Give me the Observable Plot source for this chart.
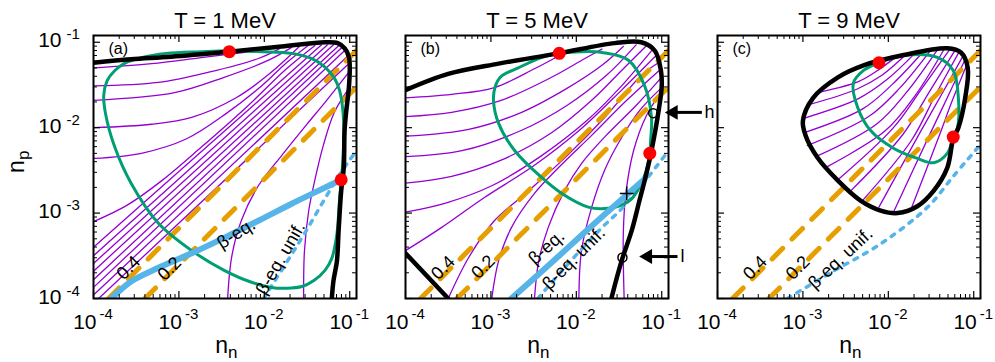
<!DOCTYPE html>
<html><head><meta charset="utf-8">
<script src="https://cdn.jsdelivr.net/npm/d3@7"></script>
<script src="https://cdn.jsdelivr.net/npm/@observablehq/plot@0.6"></script>
<style>body{margin:0;background:#fff}#chart{width:995px;height:362px}</style>
</head><body><div id="chart"></div>
<script>
// ---------- categories / tick labels ----------
const panels = ["a", "b", "c"];
const titles = ["T = 1 MeV", "T = 5 MeV", "T = 9 MeV"];
const panelTags = ["(a)", "(b)", "(c)"];
const majorTicks = [1e-4, 1e-3, 1e-2, 1e-1];
const majorExp = ["-4", "-3", "-2", "-1"];
const minorTicks = [2e-4,3e-4,4e-4,5e-4,6e-4,7e-4,8e-4,9e-4,2e-3,3e-3,4e-3,5e-3,6e-3,7e-3,8e-3,9e-3,2e-2,3e-2,4e-2,5e-2,6e-2,7e-2,8e-2,9e-2];

// ---------- constant proton fraction lines (nn, np) ----------
const yp04 = [[1.5e-4, 1e-4], [0.12, 0.08]];
const yp02 = [[4e-4, 1e-4], [0.12, 0.03]];

// ---------- panel (a), T = 1 MeV : [log10 nn, log10 np] ----------
const aBoundary = [[-4.00,-1.24],[-3.56,-1.20],[-3.09,-1.17],[-2.41,-1.11],[-1.80,-1.05],[-1.29,-1.00],[-1.14,-1.01],[-1.06,-1.07],[-1.01,-1.17],[-1.00,-1.28],[-1.01,-1.53],[-1.04,-1.80],[-1.06,-2.03],[-1.07,-2.47],[-1.10,-2.74],[-1.13,-3.20],[-1.15,-3.56],[-1.19,-3.79],[-1.21,-4.00]];
const aSpinodal = [[-2.41,-1.10],[-2.03,-1.11],[-1.68,-1.13],[-1.45,-1.19],[-1.29,-1.29],[-1.18,-1.42],[-1.12,-1.56],[-1.08,-1.80],[-1.07,-2.03],[-1.08,-2.38],[-1.10,-2.62],[-1.12,-2.85],[-1.15,-3.24],[-1.21,-3.53],[-1.29,-3.67],[-1.42,-3.79],[-1.56,-3.86],[-1.74,-3.88],[-1.92,-3.87],[-2.15,-3.81],[-2.47,-3.67],[-2.85,-3.44],[-3.24,-3.12],[-3.56,-2.65],[-3.75,-2.23],[-3.86,-1.83],[-3.88,-1.62],[-3.84,-1.45],[-3.75,-1.33],[-3.64,-1.25],[-3.44,-1.18],[-3.15,-1.13],[-2.74,-1.11]];
const aBetaEq = [[-3.79,-4.00],[-3.56,-3.80],[-3.24,-3.64],[-2.85,-3.47],[-2.47,-3.29],[-2.07,-3.09],[-1.68,-2.89],[-1.37,-2.74],[-1.10,-2.61]];
const aBetaUnif = [[-2.01,-4.00],[-1.76,-3.61],[-1.53,-3.24],[-1.29,-2.83],[-1.10,-2.52],[-0.92,-2.27]];
const aCritical = [[-2.41,-1.11],[-1.10,-2.61]];
const aFlow = [
  [[-4.00,-1.30],[-3.32,-1.25],[-2.74,-1.18],[-2.15,-1.11]],
  [[-4.00,-1.51],[-3.24,-1.47],[-2.65,-1.35],[-2.07,-1.19],[-1.83,-1.08]],
  [[-4.00,-1.68],[-3.05,-1.59],[-2.47,-1.41],[-1.95,-1.21],[-1.68,-1.06]],
  [[-4.00,-2.00],[-3.32,-1.96],[-2.85,-1.88],[-2.33,-1.65],[-1.94,-1.37],[-1.59,-1.05]],
  [[-4.00,-2.36],[-3.44,-2.30],[-2.91,-2.13],[-2.44,-1.83],[-2.03,-1.51],[-1.74,-1.24],[-1.49,-1.04]],
  [[-4.00,-3.10],[-3.61,-2.91],[-3.20,-2.62],[-2.74,-2.23],[-2.21,-1.76],[-1.74,-1.31],[-1.41,-1.04]],
  [[-4.00,-3.40],[-1.33,-1.03]],
  [[-4.00,-3.50],[-1.26,-1.03]],
  [[-4.00,-3.59],[-1.19,-1.03]],
  [[-4.00,-3.68],[-1.13,-1.04]],
  [[-4.00,-3.78],[-1.08,-1.05]],
  [[-4.00,-3.87],[-1.04,-1.08]],
  [[-4.00,-3.96],[-1.01,-1.15]],
  [[-3.94,-4.00],[-1.00,-1.24]],
  [[-2.43,-4.00],[-2.38,-3.50],[-2.27,-3.09],[-2.07,-2.68],[-1.80,-2.33],[-1.51,-1.97],[-1.27,-1.68],[-1.01,-1.35]],
  [[-1.54,-4.00],[-1.53,-3.44],[-1.48,-2.97],[-1.41,-2.62],[-1.31,-2.21],[-1.18,-1.82],[-1.01,-1.54]]
];

// ---------- panel (b), T = 5 MeV ----------
const bBoundary = [[-4.00,-1.56],[-3.50,-1.37],[-2.91,-1.25],[-2.21,-1.13],[-1.55,-1.01],[-1.24,-1.00],[-1.08,-1.10],[-1.01,-1.33],[-1.00,-1.51],[-1.03,-1.76],[-1.12,-2.27],[-1.18,-2.54],[-1.26,-2.85],[-1.35,-3.20],[-1.47,-3.56],[-1.59,-4.00]];
const bBoundaryLow = [[-4.00,-3.47],[-3.50,-4.00]];
const bSpinodal = [[-2.20,-1.13],[-1.94,-1.11],[-1.70,-1.12],[-1.39,-1.21],[-1.20,-1.51],[-1.12,-1.88],[-1.13,-2.15],[-1.14,-2.30],[-1.18,-2.50],[-1.24,-2.65],[-1.35,-2.83],[-1.51,-2.92],[-1.70,-2.95],[-1.86,-2.93],[-2.17,-2.77],[-2.41,-2.58],[-2.72,-2.27],[-2.91,-1.95],[-2.97,-1.68],[-2.95,-1.52],[-2.88,-1.40],[-2.68,-1.30],[-2.41,-1.18]];
const bBetaEq = [[-2.76,-4.00],[-2.29,-3.58],[-1.82,-3.15],[-1.47,-2.84],[-1.20,-2.60]];
const bBetaUnif = [[-2.45,-4.00],[-2.11,-3.61],[-1.70,-3.17],[-1.47,-2.95],[-1.24,-2.68],[-0.92,-2.27]];
const bCritical = [[-2.20,-1.13],[-1.14,-2.30]];
const bCross = [[-1.41,-2.77]];
const bMarks = [[-1.10,-1.83],[-1.46,-3.52]];
const bFlow = [
  [[-4.00,-1.65],[-3.46,-1.61],[-2.96,-1.53],[-2.49,-1.31],[-2.17,-1.14]],
  [[-4.00,-1.87],[-3.46,-1.82],[-2.88,-1.68],[-2.29,-1.41],[-1.90,-1.19],[-1.70,-1.08]],
  [[-4.00,-2.10],[-3.26,-2.02],[-2.64,-1.82],[-2.11,-1.54],[-1.70,-1.27],[-1.45,-1.05]],
  [[-4.00,-2.34],[-3.34,-2.27],[-2.64,-2.03],[-2.11,-1.74],[-1.65,-1.39],[-1.30,-1.03]],
  [[-4.00,-2.65],[-3.46,-2.57],[-2.88,-2.38],[-2.29,-2.06],[-1.82,-1.68],[-1.47,-1.33],[-1.18,-1.04]],
  [[-4.00,-2.99],[-3.52,-2.88],[-2.99,-2.68],[-2.41,-2.33],[-1.88,-1.92],[-1.47,-1.51],[-1.12,-1.10]],
  [[-4.00,-3.44],[-3.58,-3.17],[-3.08,-2.82],[-2.49,-2.44],[-1.94,-2.01],[-1.47,-1.56],[-1.06,-1.15]],
  [[-3.50,-4.00],[-3.26,-3.52],[-2.96,-3.09],[-2.56,-2.74],[-2.11,-2.33],[-1.65,-1.86],[-1.24,-1.39],[-1.04,-1.24]],
  [[-2.99,-4.00],[-2.91,-3.56],[-2.76,-3.17],[-2.49,-2.77],[-2.21,-2.47],[-1.82,-2.09],[-1.41,-1.68],[-1.03,-1.33]],
  [[-2.49,-4.00],[-2.44,-3.56],[-2.33,-3.17],[-2.14,-2.74],[-1.94,-2.42],[-1.65,-2.09],[-1.30,-1.74],[-1.01,-1.42]],
  [[-1.97,-4.00],[-1.94,-3.44],[-1.82,-2.93],[-1.67,-2.50],[-1.49,-2.15],[-1.26,-1.80],[-1.01,-1.54]],
  [[-1.44,-4.00],[-1.45,-3.24],[-1.42,-2.77],[-1.33,-2.27],[-1.18,-1.86],[-1.03,-1.62]]
];

// ---------- panel (c), T = 9 MeV ----------
const cBoundary = [[-3.00,-1.92],[-2.88,-1.65],[-2.59,-1.41],[-2.29,-1.27],[-1.82,-1.15],[-1.31,-1.07],[-1.15,-1.12],[-1.07,-1.30],[-1.10,-1.65],[-1.18,-2.00],[-1.24,-2.13],[-1.31,-2.47],[-1.47,-2.74],[-1.66,-2.92],[-1.89,-3.00],[-2.09,-2.97],[-2.33,-2.85],[-2.59,-2.62],[-2.83,-2.35],[-2.97,-2.09]];
const cSpinodal = [[-2.11,-1.24],[-1.78,-1.15],[-1.42,-1.18],[-1.24,-1.33],[-1.18,-1.65],[-1.19,-2.00],[-1.24,-2.11],[-1.31,-2.30],[-1.47,-2.41],[-1.66,-2.36],[-1.94,-2.24],[-2.21,-2.03],[-2.36,-1.76],[-2.41,-1.48],[-2.29,-1.33]];
const cBetaUnif = [[-3.18,-4.00],[-2.68,-3.70],[-2.09,-3.36],[-1.54,-2.93],[-1.24,-2.57],[-0.94,-2.22]];
const cCritical = [[-2.11,-1.24],[-1.24,-2.11]];
const cFlow = [
  [[-2.79,-1.58],[-2.35,-1.46],[-2.14,-1.34],[-1.92,-1.18]],
  [[-2.93,-1.73],[-2.37,-1.55],[-2.08,-1.39],[-1.80,-1.15]],
  [[-2.99,-1.89],[-2.35,-1.66],[-2.02,-1.44],[-1.69,-1.13]],
  [[-2.99,-2.06],[-2.30,-1.78],[-1.95,-1.49],[-1.60,-1.12]],
  [[-2.95,-2.21],[-2.23,-1.87],[-1.87,-1.54],[-1.51,-1.10]],
  [[-2.85,-2.34],[-2.14,-1.96],[-1.79,-1.59],[-1.42,-1.08]],
  [[-2.74,-2.47],[-2.04,-2.04],[-1.69,-1.63],[-1.34,-1.07]],
  [[-2.59,-2.61],[-1.94,-2.00],[-1.60,-1.53],[-1.27,-1.07]],
  [[-2.44,-2.74],[-1.83,-2.08],[-1.52,-1.58],[-1.21,-1.08]],
  [[-2.29,-2.84],[-1.73,-2.15],[-1.45,-1.62],[-1.17,-1.11]],
  [[-2.11,-2.93],[-1.62,-2.04],[-1.37,-1.60],[-1.12,-1.15]],
  [[-1.94,-2.99],[-1.52,-2.09],[-1.31,-1.65],[-1.10,-1.20]],
  [[-1.74,-2.97],[-1.41,-2.11],[-1.25,-1.68],[-1.08,-1.26]]
];

// ---------- annotations ----------
const curveLabels = [
  {fx: "a", text: "0.4", lx: -3.59, ly: -3.64, rotate: -45},
  {fx: "a", text: "0.2", lx: -3.11, ly: -3.65, rotate: -45},
  {fx: "a", text: "β-eq.", lx: -2.33, ly: -3.24, rotate: -32},
  {fx: "a", text: "β-eq. unif.", lx: -1.81, ly: -3.53, rotate: -60},
  {fx: "b", text: "0.4", lx: -3.56, ly: -3.64, rotate: -45},
  {fx: "b", text: "0.2", lx: -3.09, ly: -3.63, rotate: -45},
  {fx: "b", text: "β-eq.", lx: -2.35, ly: -3.40, rotate: -42},
  {fx: "b", text: "β-eq. unif.", lx: -2.03, ly: -3.53, rotate: -45},
  {fx: "c", text: "0.4", lx: -3.56, ly: -3.64, rotate: -45},
  {fx: "c", text: "0.2", lx: -3.06, ly: -3.64, rotate: -45},
  {fx: "c", text: "β-eq. unif.", lx: -2.56, ly: -3.53, rotate: -43}
];
const pointerArrows = [
  {fx: "b", label: "h", tail: 0.295, head: 0.132, tip: 0.123, lx: 0.316, np: 0.0151},
  {fx: "b", label: "l", tail: 0.153, head: 0.066, tip: 0.0616, lx: 0.166, np: 3.1e-4}
];

// ---------- build tables ----------
const rows = (fx, id, pts) => pts.map(([lx, ly]) => ({fx, id, nn: 10 ** lx, np: 10 ** ly}));
const sets = (fx, list) => list.flatMap((pts, i) => rows(fx, fx + i, pts));
const plain = (id, pts) => pts.map(([nn, np]) => ({id, nn, np}));

const flowRows = [...sets("a", aFlow), ...sets("b", bFlow), ...sets("c", cFlow)];
const boundaryRows = [...rows("a", "a", aBoundary), ...rows("b", "b", bBoundary), ...rows("b", "b2", bBoundaryLow)];
const boundaryLoopRows = rows("c", "c", cBoundary);
const spinodalRows = [...rows("a", "a", aSpinodal), ...rows("b", "b", bSpinodal), ...rows("c", "c", cSpinodal)];
const betaRows = [...rows("a", "a", aBetaEq), ...rows("b", "b", bBetaEq)];
const betaUnifRows = [...rows("a", "a", aBetaUnif), ...rows("b", "b", bBetaUnif), ...rows("c", "c", cBetaUnif)];
const criticalRows = [...rows("a", "a", aCritical), ...rows("b", "b", bCritical), ...rows("c", "c", cCritical)];
const crossRows = rows("b", "b", bCross);
const markRows = rows("b", "b", bMarks);
const ypRows = [...plain("0.4", yp04), ...plain("0.2", yp02)];
const yTickRows = majorTicks.map((v, i) => ({fx: "a", v, exp: majorExp[i]}));
const labelRows = curveLabels.map(d => ({...d, nn: 10 ** d.lx, np: 10 ** d.ly}));

const font = "'Liberation Sans', Arial, Helvetica, sans-serif";
const purple = "#9400d3", green = "#009e73", orange = "#e69f00", blue = "#56b4e9";

const chart = Plot.plot({
  width: 995, height: 362,
  marginLeft: 92, marginRight: 15, marginTop: 35, marginBottom: 64,
  style: {fontFamily: font, background: "#fff", color: "#000", overflow: "visible"},
  x: {type: "log", domain: [1e-4, 0.12], axis: null},
  y: {type: "log", domain: [1e-4, 0.12], axis: null},
  fx: {domain: panels, paddingInner: 0.158, paddingOuter: 0, axis: null},
  marks: [
    Plot.line(flowRows, {x: "nn", y: "np", z: "id", fx: "fx", stroke: purple, strokeWidth: 1.3, curve: "catmull-rom", clip: true}),
    Plot.line(ypRows, {x: "nn", y: "np", z: "id", stroke: orange, strokeWidth: 5, strokeDasharray: "15,13", clip: true}),
    Plot.line(betaUnifRows, {x: "nn", y: "np", z: "id", fx: "fx", stroke: blue, strokeWidth: 3.5, strokeDasharray: "4,7", curve: "catmull-rom", clip: true}),
    Plot.line(spinodalRows, {x: "nn", y: "np", z: "id", fx: "fx", stroke: green, strokeWidth: 3, curve: "catmull-rom-closed", clip: true}),
    Plot.line(betaRows, {x: "nn", y: "np", z: "id", fx: "fx", stroke: blue, strokeWidth: 6, curve: "catmull-rom", clip: true}),
    Plot.line(boundaryRows, {x: "nn", y: "np", z: "id", fx: "fx", stroke: "#000", strokeWidth: 4.5, curve: "catmull-rom", clip: true}),
    Plot.line(boundaryLoopRows, {x: "nn", y: "np", z: "id", fx: "fx", stroke: "#000", strokeWidth: 4.5, curve: "catmull-rom-closed", clip: true}),
    Plot.dot(markRows, {x: "nn", y: "np", fx: "fx", r: 4.5, stroke: "#000", strokeWidth: 1.5, fill: "none"}),
    Plot.dot(crossRows, {x: "nn", y: "np", fx: "fx", symbol: "plus", r: 4.5, stroke: "#000", strokeWidth: 1.5}),
    Plot.dot(criticalRows, {x: "nn", y: "np", fx: "fx", r: 6.5, fill: "#ff0000"}),
    // labels along curves
    Plot.text(labelRows, {x: "nn", y: "np", fx: "fx", text: "text", rotate: "rotate", fontSize: 18, textAnchor: "middle", lineAnchor: "middle"}),
    // pointers h / l
    Plot.link(pointerArrows, {x1: "tail", x2: "head", y1: "np", y2: "np", fx: "fx", stroke: "#000", strokeWidth: 3}),
    Plot.dot(pointerArrows, {x: "tip", y: "np", fx: "fx", symbol: "triangle", r: 5.5, rotate: -90, fill: "#000", dx: 4}),
    Plot.text(pointerArrows, {x: "lx", y: "np", fx: "fx", text: "label", textAnchor: "start", fontSize: 18}),
    // frame and ticks (all four sides)
    Plot.frame({stroke: "#000", strokeWidth: 2}),
    Plot.tickX(majorTicks, {x: d => d, insetTop: 256, stroke: "#000", strokeWidth: 1.2}),
    Plot.tickX(majorTicks, {x: d => d, insetBottom: 256, stroke: "#000", strokeWidth: 1.2}),
    Plot.tickX(minorTicks, {x: d => d, insetTop: 259, stroke: "#000", strokeWidth: 1}),
    Plot.tickX(minorTicks, {x: d => d, insetBottom: 259, stroke: "#000", strokeWidth: 1}),
    Plot.tickY(majorTicks, {y: d => d, insetRight: 256, stroke: "#000", strokeWidth: 1.2}),
    Plot.tickY(majorTicks, {y: d => d, insetLeft: 256, stroke: "#000", strokeWidth: 1.2}),
    Plot.tickY(minorTicks, {y: d => d, insetRight: 259, stroke: "#000", strokeWidth: 1}),
    Plot.tickY(minorTicks, {y: d => d, insetLeft: 259, stroke: "#000", strokeWidth: 1}),
    // x tick labels
    Plot.text(majorTicks, {x: d => d, frameAnchor: "bottom", text: () => "10", textAnchor: "end", lineAnchor: "bottom", dx: 3, dy: 30, fontSize: 21}),
    Plot.text(majorTicks, {x: d => d, frameAnchor: "bottom", text: (d, i) => majorExp[i], textAnchor: "start", lineAnchor: "bottom", dx: 6, dy: 20, fontSize: 15}),
    // y tick labels (panel a only)
    Plot.text(yTickRows, {y: "v", fx: "fx", frameAnchor: "left", text: () => "10", textAnchor: "end", lineAnchor: "bottom", dx: -32, dy: 5, fontSize: 21}),
    Plot.text(yTickRows, {y: "v", fx: "fx", frameAnchor: "left", text: "exp", textAnchor: "start", lineAnchor: "bottom", dx: -27, dy: -3, fontSize: 15}),
    // axis titles
    Plot.text(["n"], {frameAnchor: "bottom", text: d => d, textAnchor: "end", lineAnchor: "bottom", dx: 3, dy: 54, fontSize: 23}),
    Plot.text(["n"], {frameAnchor: "bottom", text: d => d, textAnchor: "start", lineAnchor: "bottom", dx: 3, dy: 59, fontSize: 17}),
    Plot.text([{fx: "a", t: "n"}], {fx: "fx", frameAnchor: "left", text: "t", rotate: -90, textAnchor: "start", lineAnchor: "bottom", dx: -70, dy: 6, fontSize: 23}),
    Plot.text([{fx: "a", t: "p"}], {fx: "fx", frameAnchor: "left", text: "t", rotate: -90, textAnchor: "start", lineAnchor: "bottom", dx: -65, dy: -7, fontSize: 17}),
    // panel titles and tags
    Plot.text(panels, {fx: d => d, frameAnchor: "top", text: (d, i) => titles[i], lineAnchor: "bottom", dy: -8, fontSize: 22}),
    Plot.text(panels, {fx: d => d, frameAnchor: "top-left", text: (d, i) => panelTags[i], textAnchor: "start", lineAnchor: "bottom", dx: 15, dy: 18, fontSize: 16})
  ]
});
document.getElementById("chart").append(chart);
</script>
</body></html>
